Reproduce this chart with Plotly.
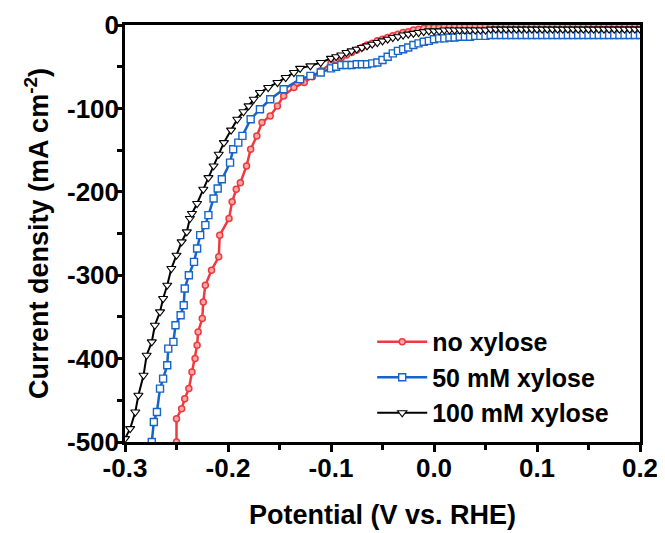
import plotly.graph_objects as go

# ---- data ----
# steep (cathodic) part of each sweep
v_no_steep = [-0.250, -0.250, -0.245, -0.242, -0.238, -0.235, -0.232, -0.230, -0.229, -0.225,
              -0.224, -0.222, -0.216, -0.209, -0.208, -0.199, -0.196, -0.192, -0.188, -0.182,
              -0.178, -0.172, -0.167, -0.159, -0.152, -0.146, -0.136, -0.126, -0.118, -0.110]
j_no_steep = [-500, -472, -460, -448, -436, -416, -400, -384, -368, -352,
              -332, -312, -294, -278, -252, -232, -212, -197, -189, -169,
              -149, -133, -117, -109, -97, -85, -75, -69, -62, -55]

v_50_steep = [-0.274, -0.272, -0.269, -0.266, -0.263, -0.259, -0.258, -0.253, -0.251, -0.246,
              -0.243, -0.242, -0.238, -0.233, -0.230, -0.227, -0.222, -0.219, -0.214, -0.210,
              -0.206, -0.198, -0.195, -0.190, -0.186, -0.178, -0.169, -0.159, -0.146, -0.130,
              -0.120, -0.110]
j_50_steep = [-500, -476, -464, -436, -424, -408, -388, -380, -360, -348,
              -336, -316, -300, -284, -268, -252, -240, -228, -208, -196,
              -185, -165, -149, -141, -133, -113, -101, -89, -77, -65,
              -61, -57]

v_100_steep = [-0.300, -0.295, -0.290, -0.287, -0.282, -0.279, -0.274, -0.271, -0.266, -0.263,
               -0.259, -0.255, -0.250, -0.245, -0.240, -0.237, -0.235, -0.230, -0.224, -0.219,
               -0.214, -0.209, -0.204, -0.197, -0.191, -0.185, -0.180, -0.175, -0.169, -0.161,
               -0.152, -0.144, -0.136, -0.130, -0.120, -0.110]
j_100_steep = [-496, -484, -464, -444, -420, -396, -380, -360, -344, -328,
               -312, -292, -276, -260, -248, -232, -226, -214, -197, -183,
               -169, -155, -141, -126, -113, -104, -97, -89, -81, -75,
               -69, -63, -57, -52, -49, -45]

# common potentials of the flat (onset) part of the sweeps
v_flat = [-0.100, -0.095, -0.090, -0.085, -0.080, -0.075, -0.070, -0.065, -0.060, -0.055,
          -0.050, -0.045, -0.040, -0.035, -0.030, -0.025, -0.020, -0.015, -0.010, -0.005,
          0.000, 0.005, 0.010, 0.015, 0.020, 0.025, 0.030, 0.035, 0.040, 0.045,
          0.050, 0.055, 0.060, 0.065, 0.070, 0.075, 0.080, 0.085, 0.090, 0.095,
          0.100, 0.105, 0.110, 0.115, 0.120, 0.125, 0.130, 0.135, 0.140, 0.145,
          0.150, 0.155, 0.160, 0.165, 0.170, 0.175, 0.180, 0.185, 0.190, 0.195, 0.200]
j_no_flat = [-46, -42, -39, -36, -33, -30, -27, -24, -22, -19,
             -17, -15, -13, -11, -9, -8, -6, -5, -4, -3,
             -3, -3, -2, -2, -2, -2, -1, -1, -1, -1,
             -1, -1, 0, 0, 0, 0, 0, 0, 0, 0,
             0, 0, 0, 0, 0, 0, 0, 0, 0, 0,
             1, 1, 1, 1, 1, 1, 1, 1, 1, 1, 1]
j_50_flat = [-52, -50, -48, -48, -48, -47, -47, -47, -46, -45,
             -42, -38, -34, -31, -29, -27, -24, -22, -20, -19,
             -17, -16, -16, -15, -15, -14, -14, -14, -13, -13,
             -13, -12, -12, -12, -12, -12, -12, -12, -12, -12,
             -12, -12, -12, -12, -12, -12, -12, -12, -12, -12,
             -12, -12, -12, -12, -12, -12, -12, -12, -12, -12, -12]
j_100_flat = [-40, -38, -36, -33, -31, -29, -27, -25, -23, -21,
              -19, -17, -15, -14, -12, -11, -10, -9, -8, -7,
              -7, -7, -6, -6, -6, -6, -6, -6, -6, -6,
              -6, -5, -5, -5, -5, -5, -5, -5, -5, -5,
              -5, -5, -5, -5, -5, -5, -5, -5, -5, -5,
              -5, -5, -5, -5, -5, -5, -5, -5, -5, -5, -5]

names = ["no xylose", "50 mM xylose", "100 mM xylose"]

x_ticks = [-0.3, -0.2, -0.1, 0.0, 0.1, 0.2]
x_tick_labels = ["-0.3", "-0.2", "-0.1", "0.0", "0.1", "0.2"]
y_ticks = [0, -100, -200, -300, -400, -500]
y_tick_labels = ["0", "-100", "-200", "-300", "-400", "-500"]

x_title = "Potential (V vs. RHE)"
y_title = "Current density (mA cm<sup>-2</sup>)"

RED = "#EE3A3E"
BLUE = "#1565C8"
BLACK = "#000000"
FONT = "Liberation Sans, Arial, sans-serif"

fig = go.Figure()
fig.add_trace(go.Scatter(
    x=v_no_steep + v_flat, y=j_no_steep + j_no_flat, name=names[0], mode="lines+markers",
    line=dict(color=RED, width=2.5),
    marker=dict(symbol="circle", size=6, color="#F7A8A8", line=dict(color=RED, width=1.5)),
))
fig.add_trace(go.Scatter(
    x=v_50_steep + v_flat, y=j_50_steep + j_50_flat, name=names[1], mode="lines+markers",
    line=dict(color=BLUE, width=2.5),
    marker=dict(symbol="square", size=7, color="white", line=dict(color=BLUE, width=1.4)),
))
fig.add_trace(go.Scatter(
    x=v_100_steep + v_flat, y=j_100_steep + j_100_flat, name=names[2], mode="lines+markers",
    line=dict(color=BLACK, width=2),
    marker=dict(symbol="triangle-down", size=8, color="white", line=dict(color=BLACK, width=1.1)),
))

axis_common = dict(
    showline=True, linecolor="black", linewidth=2.5, mirror=True,
    ticks="outside", ticklen=7, tickwidth=2.5, tickcolor="black",
    showgrid=False, zeroline=False, automargin=False,
    tickfont=dict(family=FONT, size=26, color="black", weight="bold"),
)

fig.update_xaxes(
    range=[-0.3, 0.2], tickmode="array", tickvals=x_ticks, ticktext=x_tick_labels,
    minor=dict(tickmode="linear", tick0=-0.3, dtick=0.05, ticks="outside",
               ticklen=5, tickwidth=2.5, tickcolor="black", showgrid=False),
    ticklabelstandoff=-6,
    **axis_common,
)
fig.update_yaxes(
    range=[-500, 0], tickmode="array", tickvals=y_ticks, ticktext=y_tick_labels,
    minor=dict(tickmode="linear", tick0=0, dtick=50, ticks="outside",
               ticklen=5, tickwidth=2.5, tickcolor="black", showgrid=False),
    ticklabelstandoff=-9,
    **axis_common,
)

title_font = dict(family=FONT, size=27, color="black", weight="bold")
fig.add_annotation(text=x_title, xref="paper", yref="paper", x=0.5, y=-0.176,
                   xanchor="center", yanchor="middle", showarrow=False, font=title_font)
fig.add_annotation(text=y_title, xref="paper", yref="paper", x=-0.172, y=0.5,
                   xanchor="center", yanchor="middle", textangle=-90, showarrow=False,
                   font=title_font)

fig.update_layout(
    width=657, height=525,
    margin=dict(l=117, r=25, t=17, b=91, autoexpand=False),
    paper_bgcolor="white", plot_bgcolor="white",
    showlegend=True,
    legend=dict(
        x=0.48, y=0.295, xanchor="left", yanchor="top",
        bgcolor="rgba(0,0,0,0)", borderwidth=0,
        font=dict(family=FONT, size=25, color="black", weight="bold"),
        tracegroupgap=0, itemwidth=50,
    ),
)

fig.write_html("out.html")
